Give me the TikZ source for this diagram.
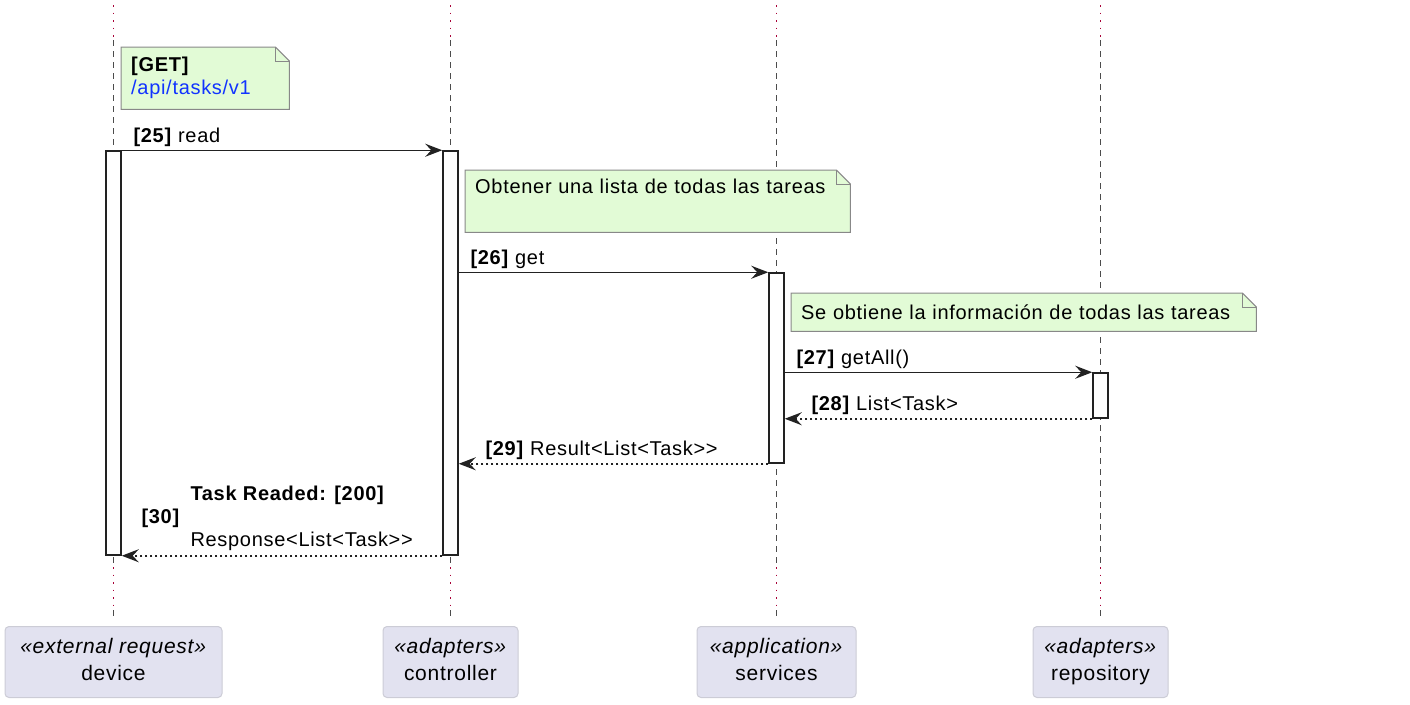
\documentclass[tikz,border=0pt]{standalone}
\usepackage{fontspec}
\setmainfont{Liberation Sans}[LetterSpace=3.5]
\usetikzlibrary{arrows.meta}
\definecolor{notegreen}{RGB}{226,251,214}
\definecolor{noteframe}{RGB}{136,136,136}
\definecolor{partfill}{RGB}{226,226,240}
\definecolor{partframe}{RGB}{204,204,214}
\definecolor{lifered}{RGB}{168,0,54}
\definecolor{linkblue}{RGB}{17,51,255}
\definecolor{ink}{RGB}{34,34,34}

\begin{document}
\begin{tikzpicture}[x=1pt,y=-1pt,>={Stealth[length=17pt,width=13pt,inset=6pt]},
  txt/.style={font=\fontsize{20}{23}\selectfont,inner sep=0pt},
  part/.style={fill=partfill,draw=partframe,line width=1pt,rounded corners=4pt,minimum height=71pt,inner sep=0pt,align=center,font=\fontsize{21}{27}\selectfont},
  act/.style={draw=ink,fill=white,line width=1.5pt,minimum width=15pt,inner sep=0pt},
  note/.style={txt,fill=notegreen,anchor=north west,align=left,inner xsep=10pt},
  noteline/.style={draw=noteframe,line width=1pt},
  msg/.style={->,draw=ink,line width=1.5pt},
  reply/.style={msg,dash pattern=on 2.5pt off 2.5pt},
  lifeline/.style={draw=black!70,line width=1pt,dash pattern=on 6pt off 5pt},
  lifedot/.style={draw=lifered,line width=1.5pt,dash pattern=on 1.5pt off 6pt}]
\useasboundingbox (0,0) rectangle (1410,704);

\node[part,minimum width=217pt] (device) at (113.5,662) {\strut\textit{«external request»}\\\strut device};
\node[part,minimum width=135pt] (controller) at (450.5,662) {\strut\textit{«adapters»}\\\strut controller};
\node[part,minimum width=159pt] (services) at (776.5,662) {\strut\textit{«application»}\\\strut services};
\node[part,minimum width=135pt] (repository) at (1100.5,662) {\strut\textit{«adapters»}\\\strut repository};

\foreach \p in {device,controller,services,repository}{
  \draw[lifedot] (\p.north |- 0,5) -- (\p.north |- 0,38);
  \draw[lifeline] (\p.north |- 0,40) -- (\p.north |- 0,563);
  \draw[lifedot] (\p.north |- 0,567) -- (\p.north |- 0,607);
  \draw[lifeline] (\p.north |- 0,610) -- (\p.north |- 0,617);
}

\node[act,minimum height=404pt] (actDev) at (device.north |- 0,353) {};
\node[act,minimum height=404pt] (actCtl) at (controller.north |- 0,353) {};
\node[act,minimum height=190pt] (actSrv) at (services.north |- 0,368) {};
\node[act,minimum height=45pt] (actRep) at (repository.north |- 0,395.5) {};

\node[note,text width=148pt,minimum height=62pt] (noteGet) at (121,47) {\textbf{[GET]}\\\textcolor{linkblue}{/api/tasks/v1}};
\node[note,text width=365pt,minimum height=62pt] (noteObt) at (465,170) {Obtener una lista de todas las tareas\\\strut};
\node[note,text width=445pt,minimum height=38pt] (noteInf) at (791,293) {Se obtiene la información de todas las tareas};
\foreach \n in {noteGet,noteObt,noteInf}{
  \fill[white] ([xshift=-14pt]\n.north east) -- (\n.north east) -- ([yshift=-14pt]\n.north east) -- cycle;
  \draw[noteline] (\n.south west) -- (\n.north west) -- ([xshift=-14pt]\n.north east) -- ([yshift=-14pt]\n.north east) -- (\n.south east) -- cycle;
  \draw[noteline] ([xshift=-14pt]\n.north east) |- ([yshift=-14pt]\n.north east);
}

\draw[msg] (actDev.north east) -- (actCtl.north west)
  node[txt,pos=0,anchor=base west,xshift=11pt,yshift=8pt] {\textbf{[25]} read};
\draw[msg] (actCtl.east |- actSrv.north) -- (actSrv.north west)
  node[txt,pos=0,anchor=base west,xshift=11pt,yshift=8pt] {\textbf{[26]} get};
\draw[msg] (actSrv.east |- actRep.north) -- (actRep.north west)
  node[txt,pos=0,anchor=base west,xshift=11pt,yshift=8pt] {\textbf{[27]} getAll()};
\draw[reply] (actRep.south west) -- (actSrv.east |- actRep.south)
  node[txt,pos=1,anchor=base west,xshift=26pt,yshift=8pt] {\textbf{[28]} List<Task>};
\draw[reply] (actSrv.south west) -- (actCtl.east |- actSrv.south)
  node[txt,pos=1,anchor=base west,xshift=26pt,yshift=8pt] {\textbf{[29]} Result<List<Task>{}>};
\draw[reply] (actCtl.south west) -- (actDev.south east)
  node[txt,pos=1,anchor=south west,xshift=19pt,yshift=4pt,align=left] {\hspace*{49pt}\textbf{Task Readed: [200]}\\\textbf{[30]}\\\hspace*{49pt}Response<List<Task>{}>};

\end{tikzpicture}
\end{document}
